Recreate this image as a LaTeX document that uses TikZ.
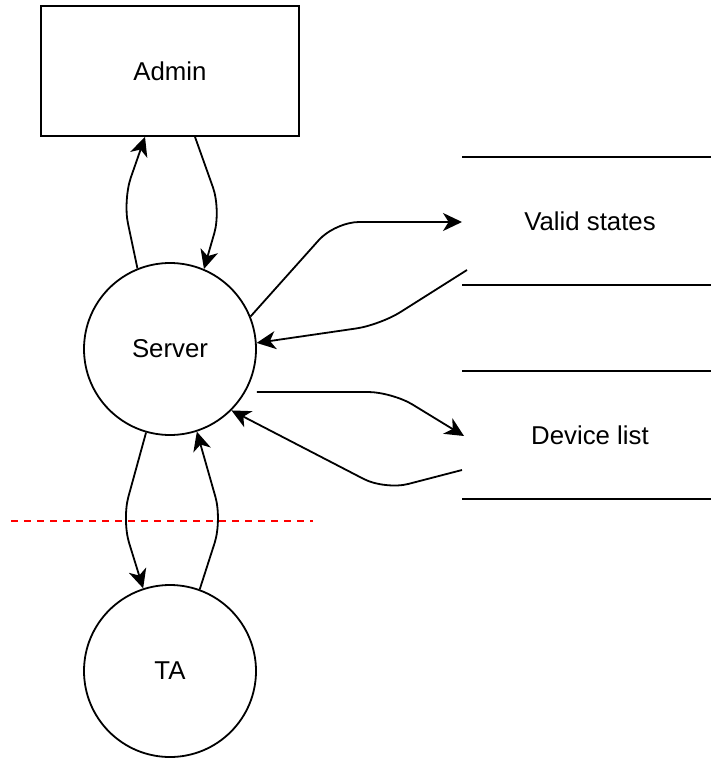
\documentclass[tikz,border=0pt]{standalone}
\usepackage{fontspec}
\setmainfont{Liberation Sans}
\usetikzlibrary{arrows.meta}
\begin{document}
\begin{tikzpicture}[x=0.5pt,y=-0.5pt,
  every node/.style={font=\fontsize{12.9}{15}\selectfont, inner sep=0pt},
  base/.style={draw=black, line width=0.9pt},
  boxnode/.style={base, rectangle, minimum width=129pt, minimum height=65pt},
  circnode/.style={base, circle, minimum size=86pt},
  flow/.style={line width=0.9pt, rounded corners=12pt, -{Stealth[length=9.5pt,width=9pt,inset=2.8pt]}},
  storeline/.style={line width=0.9pt},
  boundary/.style={draw=red, line width=0.6pt, dash pattern=on 3.5pt off 3pt}
]
\useasboundingbox (0,0) rectangle (711,758);

\node[boxnode] (admin) at (170,71) {Admin};
\node[circnode] (server) at (170,349) {Server};
\node[circnode] (ta) at (170,671) {TA};
\node (valid) at (590,221) {Valid states};
\node (dev) at (590,435) {Device list};

% data store lines
\draw[storeline] (462,157) -- (711,157);
\draw[storeline] (462,285) -- (711,285);
\draw[storeline] (462,371) -- (711,371);
\draw[storeline] (462,499) -- (711,499);

\coordinate (vsin) at (462,222);
\coordinate (vsout) at (467,270);
\coordinate (dvin) at (464,436);
\coordinate (dvout) at (462,470);

% Server <-> Admin
\draw[flow] (server.112) -- (123,200) -- ([xshift=-12.5pt]admin.south);
\draw[flow] ([xshift=12.5pt]admin.south) -- (221,210) -- (server.67);

% Server <-> Valid states
\draw[flow] (server.22) -- (335,222) -- (vsin);
\draw[flow] (vsout) -- (380,325) -- (server.4);

% Server <-> Device list
\draw[flow] ([yshift=-21.5pt]server.east) -- (392,392) -- (dvin);
\draw[flow] (dvout) -- (385,490) -- (server.-45);

% Server <-> TA
\draw[flow] (server.-106) -- (122,520) -- (ta.108);
\draw[flow] (ta.70) -- (222,520) -- (server.-72);

% trust boundary
\draw[boundary] (11,521) -- (313,521);
\end{tikzpicture}
\end{document}
